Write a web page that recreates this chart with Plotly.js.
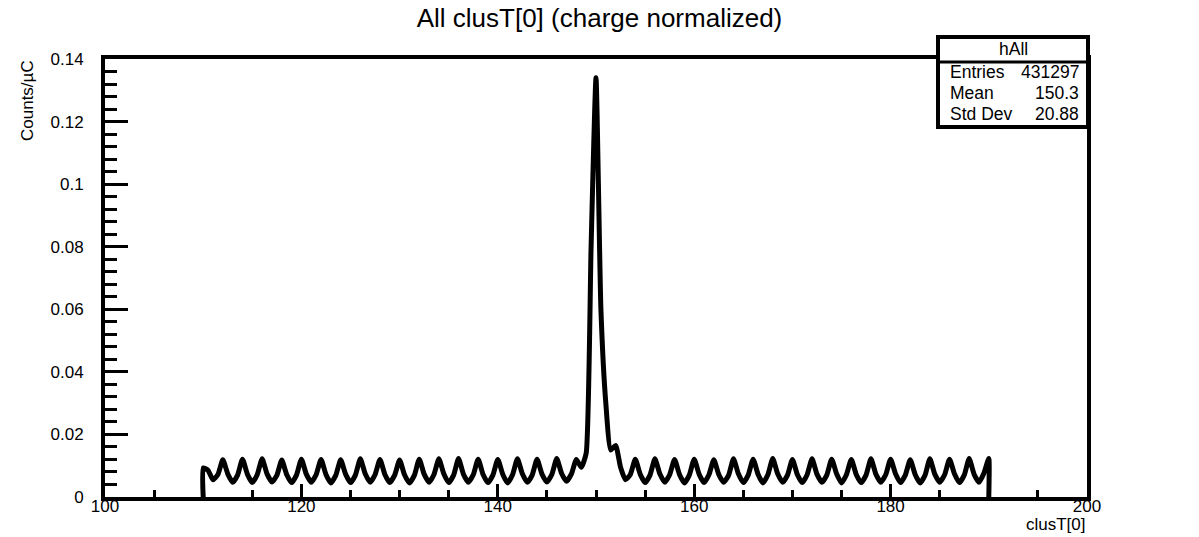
<!DOCTYPE html>
<html><head><meta charset="utf-8">
<script src="https://cdn.plot.ly/plotly-3.0.1.min.js"></script>
<style>html,body{margin:0;padding:0;background:#fff}</style>
</head><body><div id="chart" style="width:1199px;height:537px"></div>
<script>
// Histogram hAll: bin contents (Counts/µC) from clusT[0] = 110 to 190, step 0.5
const binStart = 110;
const binStep = 0.5;
const counts = [
  0.0093, 0.0085,  0.0055, 0.0072,  0.0119, 0.0074,  0.0047, 0.0070,  0.0121, 0.0073,
  0.0046, 0.0071,  0.0122, 0.0074,  0.0048, 0.0069,  0.0118, 0.0072,  0.0046, 0.0070,
  0.0121, 0.0073,  0.0047, 0.0071,  0.0120, 0.0072,  0.0045, 0.0069,  0.0119, 0.0073,
  0.0046, 0.0070,  0.0122, 0.0074,  0.0047, 0.0071,  0.0120, 0.0072,  0.0046, 0.0070,
  0.0118, 0.0071,  0.0045, 0.0069,  0.0121, 0.0073,  0.0047, 0.0072,  0.0122, 0.0074,
  0.0046, 0.0070,  0.0123, 0.0073,  0.0047, 0.0071,  0.0121, 0.0072,  0.0046, 0.0070,
  0.0120, 0.0073,  0.0045, 0.0071,  0.0122, 0.0074,  0.0047, 0.0070,  0.0121, 0.0073,
  0.0048, 0.0072,  0.0123, 0.0075,  0.0050, 0.0074,  0.0120, 0.0095,  0.0140, 0.0800,
  0.1340, 0.0600,  0.0300, 0.0150,  0.0165, 0.0095,  0.0055, 0.0072,  0.0121, 0.0073,
  0.0046, 0.0070,  0.0122, 0.0074,  0.0047, 0.0071,  0.0120, 0.0072,  0.0045, 0.0070,
  0.0121, 0.0073,  0.0046, 0.0071,  0.0119, 0.0072,  0.0047, 0.0069,  0.0122, 0.0074,
  0.0046, 0.0070,  0.0121, 0.0073,  0.0045, 0.0071,  0.0123, 0.0074,  0.0047, 0.0070,
  0.0120, 0.0072,  0.0046, 0.0071,  0.0122, 0.0073,  0.0047, 0.0070,  0.0121, 0.0074,
  0.0045, 0.0071,  0.0120, 0.0072,  0.0046, 0.0070,  0.0122, 0.0073,  0.0047, 0.0071,
  0.0121, 0.0074,  0.0046, 0.0070,  0.0119, 0.0072,  0.0045, 0.0069,  0.0122, 0.0073,
  0.0047, 0.0071,  0.0121, 0.0074,  0.0046, 0.0070,  0.0123, 0.0073,  0.0047, 0.0076,
  0.0123
];
const xRange = [100, 200];
const yRange = [0, 0.14];
const histName = "hAll";
const statsLabels = ["Entries", "Mean", "Std Dev"];
const statsValues = ["431297", "150.3", "20.88"];
const chartTitle = "All clusT[0] (charge normalized)";
const xTitle = "clusT[0]";
const yTitle = "Counts/µC";

// Build outline: histogram starts and ends at zero on its edges
const binX = counts.map((_, i) => binStart + i * binStep);
const xs = [binX[0]].concat(binX, [binX[binX.length - 1]]);
const ys = [0].concat(counts, [0]);

const FONT = '"Liberation Sans", Arial, Helvetica, sans-serif';
const W = 1199, H = 537;
const M = {l: 105, r: 112, t: 59, b: 40};
const PW = W - M.l - M.r, PH = H - M.t - M.b;
const px = v => (v - M.l) / PW;      // pixel x -> paper
const py = v => (H - M.b - v) / PH;  // pixel y -> paper

const boxL = px(938), boxR = px(1088), boxT = py(37), boxB = py(127), boxSep = py(62);

const rowY = [py(72), py(93), py(114)];
const annotations = [
  {xref:'paper', yref:'paper', x:px(1088), y:py(524), xanchor:'right', yanchor:'middle',
   text:xTitle, showarrow:false, font:{family:FONT, size:17, color:'black'}},
  {xref:'paper', yref:'paper', x:px(27), y:py(101), xanchor:'center', yanchor:'middle',
   text:yTitle, textangle:-90, showarrow:false, font:{family:FONT, size:17, color:'black'}},
  {xref:'paper', yref:'paper', x:(boxL + boxR) / 2, y:py(49), xanchor:'center', yanchor:'middle',
   text:histName, showarrow:false, font:{family:FONT, size:17.5, color:'black'}}
];
statsLabels.forEach((lab, i) => {
  annotations.push({xref:'paper', yref:'paper', x:boxL + 10 / PW, y:rowY[i], xanchor:'left', yanchor:'middle',
    text:lab, showarrow:false, font:{family:FONT, size:17.5, color:'black'}});
  annotations.push({xref:'paper', yref:'paper', x:boxR - 7 / PW, y:rowY[i], xanchor:'right', yanchor:'middle',
    text:statsValues[i], showarrow:false, font:{family:FONT, size:17.5, color:'black'}});
});

const shapes = [
  {type:'rect', xref:'paper', yref:'paper', x0:boxL, x1:boxR, y0:boxB, y1:boxT,
   line:{color:'black', width:4}, fillcolor:'white', layer:'above'},
  {type:'line', xref:'paper', yref:'paper', x0:boxL, x1:boxR, y0:boxSep, y1:boxSep,
   line:{color:'black', width:3}, layer:'above'}
];

const trace = {
  type:'scatter', mode:'lines', x:xs, y:ys,
  line:{color:'black', width:5, shape:'spline', smoothing:0.5}, hoverinfo:'skip', showlegend:false
};

const axisCommon = {
  showgrid:false, zeroline:false, showline:true, linecolor:'black', linewidth:4, mirror:true,
  ticks:'inside', tickcolor:'black', tickwidth:3,
  tickfont:{family:FONT, size:17, color:'black'}
};

const layout = {
  width:W, height:H, margin:M, paper_bgcolor:'white', plot_bgcolor:'white', showlegend:false,
  title:{text:chartTitle, font:{family:FONT, size:26, color:'black'},
         xref:'container', x:0.5, xanchor:'center', yref:'container', y:1 - 18 / H, yanchor:'middle'},
  xaxis:Object.assign({}, axisCommon, {
    range:xRange, tick0:100, dtick:20, ticklen:13, ticklabelstandoff:-9,
    minor:{dtick:5, ticks:'inside', ticklen:7, tickwidth:3, tickcolor:'black', showgrid:false}
  }),
  yaxis:Object.assign({}, axisCommon, {
    range:yRange, tick0:0, dtick:0.02, ticklen:23, ticklabelstandoff:14,
    minor:{dtick:0.004, ticks:'inside', ticklen:12, tickwidth:3, tickcolor:'black', showgrid:false}
  }),
  shapes:shapes, annotations:annotations
};

Plotly.newPlot('chart', [trace], layout, {displayModeBar:false, staticPlot:true});
</script>
</body></html>
